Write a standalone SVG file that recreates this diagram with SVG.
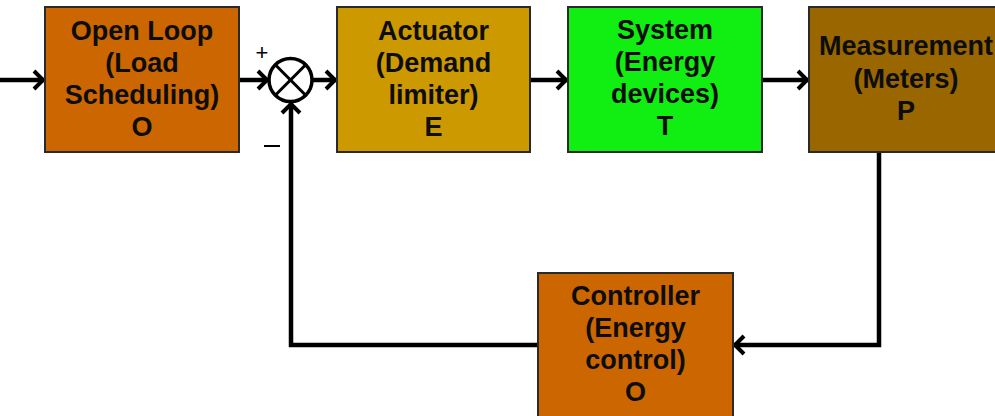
<svg xmlns="http://www.w3.org/2000/svg" width="995" height="416" viewBox="0 0 995 416">
<style>
.box{stroke:#2a2a2a;stroke-width:2}
.lbl{font-family:"Liberation Sans",Arial,sans-serif;font-weight:bold;font-size:27px;fill:#0d0d0d;text-anchor:middle}
.wire{fill:none;stroke:#000;stroke-width:4.5}
.sign{font-family:"Liberation Sans",Arial,sans-serif;font-size:22px;fill:#000;text-anchor:middle}
</style>
<defs>
<marker id="arr" markerUnits="userSpaceOnUse" viewBox="0 0 16 22" markerWidth="16" markerHeight="22" refX="13" refY="11" orient="auto">
<path d="M3,2 L12,11 L3,20" fill="none" stroke="#000" stroke-width="4" stroke-linejoin="miter"/>
</marker>
</defs>
<rect width="995" height="416" fill="#fff"/>
<g id="connectors">
<line class="wire" x1="0" y1="80" x2="44" y2="80" marker-end="url(#arr)"/>
<line class="wire" x1="240" y1="80" x2="268" y2="80" marker-end="url(#arr)"/>
<line class="wire" x1="313" y1="80" x2="336" y2="80" marker-end="url(#arr)"/>
<line class="wire" x1="531" y1="80" x2="567" y2="80" marker-end="url(#arr)"/>
<line class="wire" x1="763" y1="80" x2="808" y2="80" marker-end="url(#arr)"/>
<polyline class="wire" points="879,153 879,345 734,345" marker-end="url(#arr)"/>
<polyline class="wire" points="537,345 291,345 291,103" marker-end="url(#arr)"/>
</g>
<g id="sum">
<circle cx="290.5" cy="80" r="21.5" fill="#fff" stroke="#000" stroke-width="3.5"/>
<line x1="275.3" y1="64.8" x2="305.7" y2="95.2" stroke="#000" stroke-width="3"/>
<line x1="305.7" y1="64.8" x2="275.3" y2="95.2" stroke="#000" stroke-width="3"/>
<text class="sign" x="262" y="60">+</text>
<line x1="264" y1="146" x2="280" y2="146" stroke="#000" stroke-width="2"/>
</g>
<g id="openloop">
<rect class="box" x="45" y="7" width="194" height="145" fill="#CC6600"/>
<text class="lbl" x="142" y="40">Open Loop</text>
<text class="lbl" x="142" y="72">(Load</text>
<text class="lbl" x="142" y="104">Scheduling)</text>
<text class="lbl" x="142" y="136">O</text>
</g>
<g id="actuator">
<rect class="box" x="337" y="7" width="193" height="145" fill="#CC9900"/>
<text class="lbl" x="433.5" y="40">Actuator</text>
<text class="lbl" x="433.5" y="72">(Demand</text>
<text class="lbl" x="433.5" y="104">limiter)</text>
<text class="lbl" x="433.5" y="136">E</text>
</g>
<g id="system">
<rect class="box" x="568" y="7" width="194" height="145" fill="#11EE11"/>
<text class="lbl" x="665" y="39">System</text>
<text class="lbl" x="665" y="71">(Energy</text>
<text class="lbl" x="665" y="103">devices)</text>
<text class="lbl" x="665" y="135">T</text>
</g>
<g id="measurement">
<rect class="box" x="809" y="7" width="194" height="145" fill="#996600"/>
<text class="lbl" x="906" y="55">Measurement</text>
<text class="lbl" x="906" y="88">(Meters)</text>
<text class="lbl" x="906" y="120">P</text>
</g>
<g id="controller">
<rect class="box" x="538" y="273" width="195" height="150" fill="#CC6600"/>
<text class="lbl" x="635.5" y="305">Controller</text>
<text class="lbl" x="635.5" y="337">(Energy</text>
<text class="lbl" x="635.5" y="369">control)</text>
<text class="lbl" x="635.5" y="401">O</text>
</g>
</svg>
